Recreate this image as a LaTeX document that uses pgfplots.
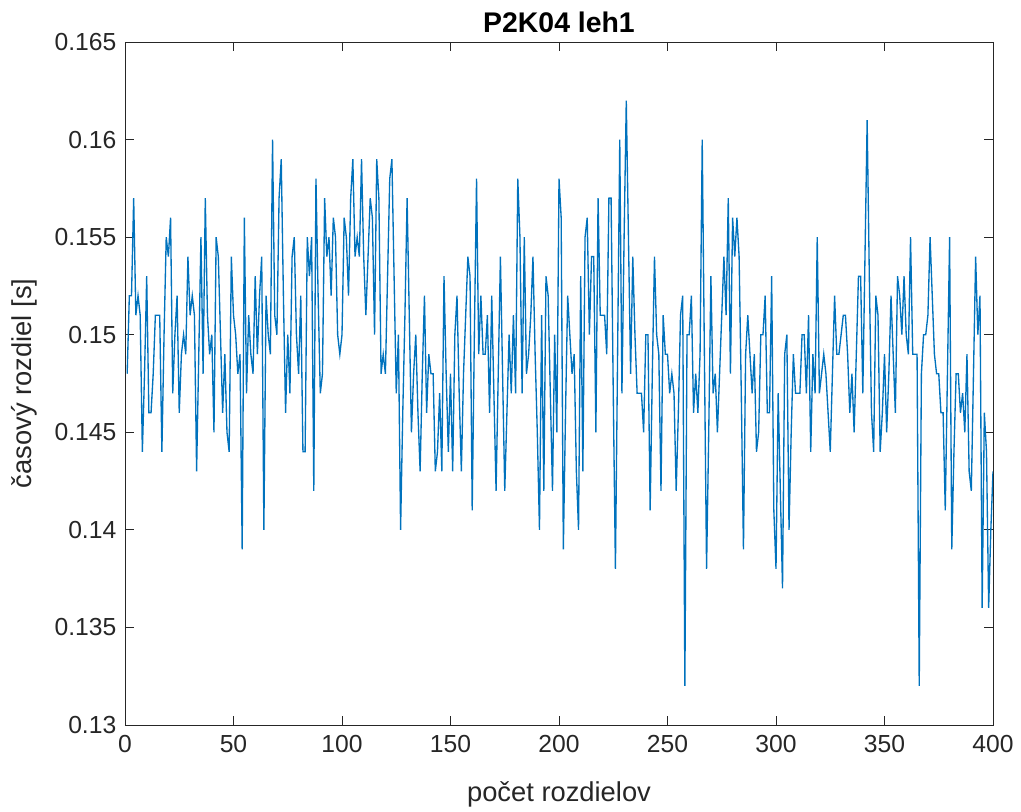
\documentclass[border=0pt]{standalone}
\usepackage{pgfplots}
\pgfplotsset{compat=1.18}
\usepackage{pgfplotstable}
\usepackage{fontspec}
\setmainfont{Liberation Sans}
\usetikzlibrary{calc}
\definecolor{mblue}{rgb}{0,0.447,0.741}
\definecolor{mgray}{rgb}{0.15,0.15,0.15}
\pgfplotstableread{
y
0.148
0.152
0.152
0.157
0.151
0.152
0.151
0.144
0.148
0.153
0.146
0.146
0.148
0.151
0.151
0.151
0.144
0.150
0.155
0.154
0.156
0.147
0.150
0.152
0.146
0.149
0.150
0.149
0.154
0.151
0.152
0.151
0.143
0.149
0.155
0.148
0.157
0.151
0.149
0.150
0.145
0.155
0.154
0.150
0.146
0.149
0.145
0.144
0.154
0.151
0.150
0.148
0.149
0.139
0.156
0.147
0.151
0.149
0.148
0.153
0.149
0.152
0.154
0.140
0.152
0.150
0.149
0.160
0.151
0.150
0.157
0.159
0.152
0.146
0.150
0.147
0.154
0.155
0.150
0.148
0.152
0.144
0.144
0.155
0.153
0.155
0.142
0.158
0.152
0.147
0.148
0.157
0.154
0.155
0.152
0.156
0.155
0.150
0.149
0.150
0.156
0.155
0.152
0.157
0.159
0.154
0.155
0.154
0.159
0.154
0.151
0.154
0.157
0.156
0.150
0.159
0.157
0.148
0.149
0.148
0.153
0.158
0.159
0.153
0.147
0.150
0.140
0.146
0.151
0.157
0.151
0.145
0.148
0.150
0.146
0.143
0.148
0.152
0.146
0.149
0.148
0.148
0.143
0.144
0.147
0.143
0.153
0.148
0.144
0.148
0.143
0.150
0.152
0.147
0.143
0.148
0.151
0.154
0.153
0.141
0.150
0.158
0.149
0.152
0.149
0.149
0.151
0.146
0.152
0.147
0.142
0.148
0.154
0.148
0.142
0.146
0.150
0.147
0.151
0.147
0.158
0.155
0.147
0.155
0.148
0.149
0.151
0.154
0.149
0.145
0.140
0.151
0.142
0.153
0.152
0.147
0.142
0.150
0.145
0.158
0.156
0.139
0.146
0.152
0.150
0.148
0.149
0.143
0.140
0.153
0.143
0.155
0.156
0.150
0.154
0.154
0.145
0.157
0.151
0.151
0.151
0.149
0.157
0.157
0.147
0.138
0.149
0.160
0.147
0.155
0.162
0.155
0.148
0.154
0.150
0.147
0.147
0.147
0.145
0.150
0.150
0.141
0.148
0.154
0.150
0.149
0.142
0.151
0.149
0.149
0.147
0.148
0.147
0.142
0.146
0.151
0.152
0.132
0.150
0.150
0.152
0.146
0.148
0.146
0.149
0.160
0.149
0.138
0.145
0.153
0.147
0.148
0.145
0.148
0.151
0.154
0.151
0.157
0.148
0.156
0.154
0.156
0.154
0.147
0.139
0.149
0.151
0.149
0.147
0.149
0.144
0.145
0.150
0.150
0.152
0.146
0.146
0.153
0.141
0.138
0.147
0.142
0.137
0.149
0.150
0.140
0.145
0.149
0.147
0.147
0.147
0.150
0.150
0.147
0.151
0.144
0.149
0.147
0.155
0.147
0.148
0.149
0.148
0.146
0.144
0.148
0.152
0.149
0.149
0.150
0.151
0.151
0.149
0.146
0.148
0.145
0.149
0.153
0.153
0.147
0.154
0.161
0.153
0.146
0.144
0.152
0.151
0.144
0.146
0.149
0.145
0.148
0.152
0.149
0.146
0.153
0.152
0.150
0.153
0.150
0.149
0.155
0.149
0.149
0.149
0.132
0.148
0.150
0.150
0.151
0.155
0.152
0.149
0.148
0.148
0.146
0.146
0.141
0.148
0.155
0.139
0.144
0.148
0.148
0.146
0.147
0.145
0.149
0.143
0.142
0.148
0.154
0.150
0.152
0.136
0.146
0.144
0.136
0.140
0.143
}\datatable
\begin{document}
\begin{tikzpicture}
\begin{axis}[
  scale only axis,
  width=651pt, height=512.25pt,
  xmin=0, xmax=400, ymin=0.13, ymax=0.165,
  xtick={0,50,...,400},
  ytick={0.13,0.135,0.14,0.145,0.15,0.155,0.16,0.165},
  yticklabels={0.13,0.135,0.14,0.145,0.15,0.155,0.16,0.165},
  /pgf/number format/assume math mode=true,
  scaled y ticks=false,
  tick align=inside,
  major tick length=7pt,
  axis line style={mgray, line width=0.6pt},
  every tick/.style={mgray, line width=0.6pt},
  tick label style={font=\fontsize{18.5}{22}\selectfont, text=mgray},
  xticklabel style={yshift=-4pt},
  yticklabel style={xshift=-3pt},
  xlabel={počet rozdielov},
  ylabel={časový rozdiel [s]},
  label style={font=\fontsize{20.5}{24}\selectfont, text=mgray},
  xlabel style={yshift=-15pt},
  ylabel style={yshift=6pt},
  title={\textbf{P2K04 leh1}},
  title style={font=\fontsize{21.3}{24}\selectfont, text=black, yshift=-2.5pt},
]
\addplot[mblue, line width=1pt] table[x expr=\coordindex+1, y=y] {\datatable};
\end{axis}
\path ($(current axis.south west)+(-93.75pt,-61.5pt)$) rectangle ($(current axis.north east)+(21pt,31.5pt)$);
\end{tikzpicture}
\end{document}
